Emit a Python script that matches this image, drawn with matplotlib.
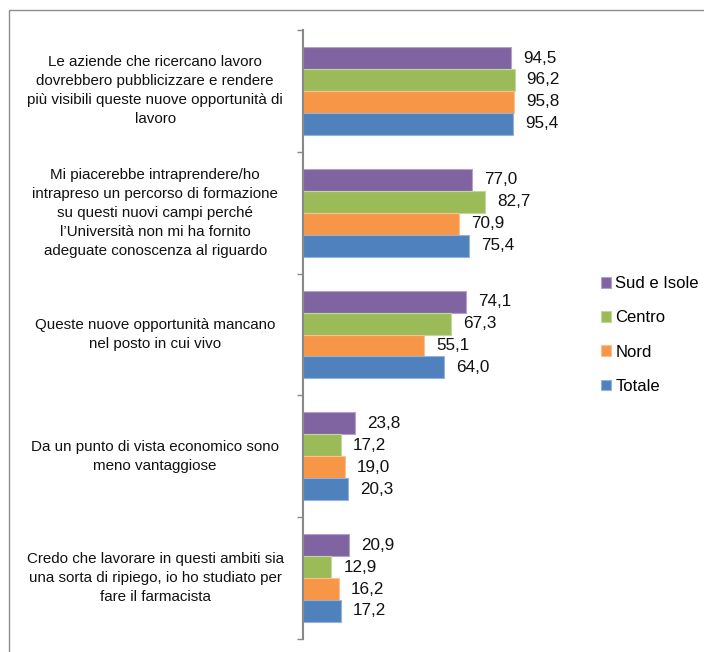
import numpy as np
import matplotlib.pyplot as plt
from matplotlib.patches import Rectangle

plt.rcParams['font.family'] = ['Liberation Sans', 'DejaVu Sans']

categories = [
    "Le aziende che ricercano lavoro\ndovrebbero pubblicizzare e rendere\npiù visibili queste nuove opportunità di\nlavoro",
    "Mi piacerebbe intraprendere/ho\nintrapreso un percorso di formazione\nsu questi nuovi campi perché\nl\u2019Università non mi ha fornito\nadeguate conoscenza al riguardo",
    "Queste nuove opportunità mancano\nnel posto in cui vivo",
    "Da un punto di vista economico sono\nmeno vantaggiose",
    "Credo che lavorare in questi ambiti sia\nuna sorta di ripiego, io ho studiato per\nfare il farmacista",
]
series = ["Sud e Isole", "Centro", "Nord", "Totale"]
sud = [94.5, 77.0, 74.1, 23.8, 20.9]
centro = [96.2, 82.7, 67.3, 17.2, 12.9]
nord = [95.8, 70.9, 55.1, 19.0, 16.2]
totale = [95.4, 75.4, 64.0, 20.3, 17.2]
colors = ["#8064A2", "#9BBB59", "#F79646", "#4F81BD"]
edges = ["#B3A2C7", "#C3D69B", "#FAC090", "#95B3D7"]

fig = plt.figure(figsize=(7.04, 6.52), dpi=100)
ax = fig.add_axes([303/704, 1-639/652, 220/704, 609/652])

# outer frame (only top and left visible in the reference)
fig.patches.append(Rectangle((9/704, -0.1), 1.2, 1-10/652+0.1, transform=fig.transFigure,
                             fill=False, ec="#8c8c8c", lw=1))

n = len(categories)
centers = np.arange(n)[::-1]  # first category on top
h = 0.18
offs = [1.5*h, 0.5*h, -0.5*h, -1.5*h]
for vals, lab, c, e, o in zip([sud, centro, nord, totale], series, colors, edges, offs):
    bars = ax.barh(centers + o, vals, height=h, color=c, edgecolor=e, lw=0.8, label=lab)
    for b, v in zip(bars, vals):
        ax.text(v + 5.5, b.get_y() + h/2, f"{v:.1f}".replace(".", ","), va="center",
                ha="left", fontsize=12.3, color="#111111", clip_on=False)

for y, txt in zip(centers, categories):
    ax.text(-0.672, y, txt, transform=ax.get_yaxis_transform(), ha="center", va="center",
            fontsize=10.9, linespacing=1.46, color="#111111")

ax.set_xlim(0, 100)
ax.set_ylim(-0.5, n - 0.5)
ax.set_yticks(np.arange(n + 1) - 0.5)
ax.set_yticklabels([])
ax.tick_params(axis="y", length=4, color="#888888", width=1)
ax.set_xticks([])
for s in ["top", "right", "bottom"]:
    ax.spines[s].set_visible(False)
ax.spines["left"].set_color("#888888")
ax.spines["left"].set_linewidth(1.5)

handles, labels = ax.get_legend_handles_labels()
fig.legend(handles, labels, loc="center left", bbox_to_anchor=(586/704, 1-335/652),
           frameon=False, fontsize=12, handlelength=0.6, handleheight=0.6,
           handletextpad=0.25, labelspacing=1.15)

fig.savefig("out.png", dpi=100)
